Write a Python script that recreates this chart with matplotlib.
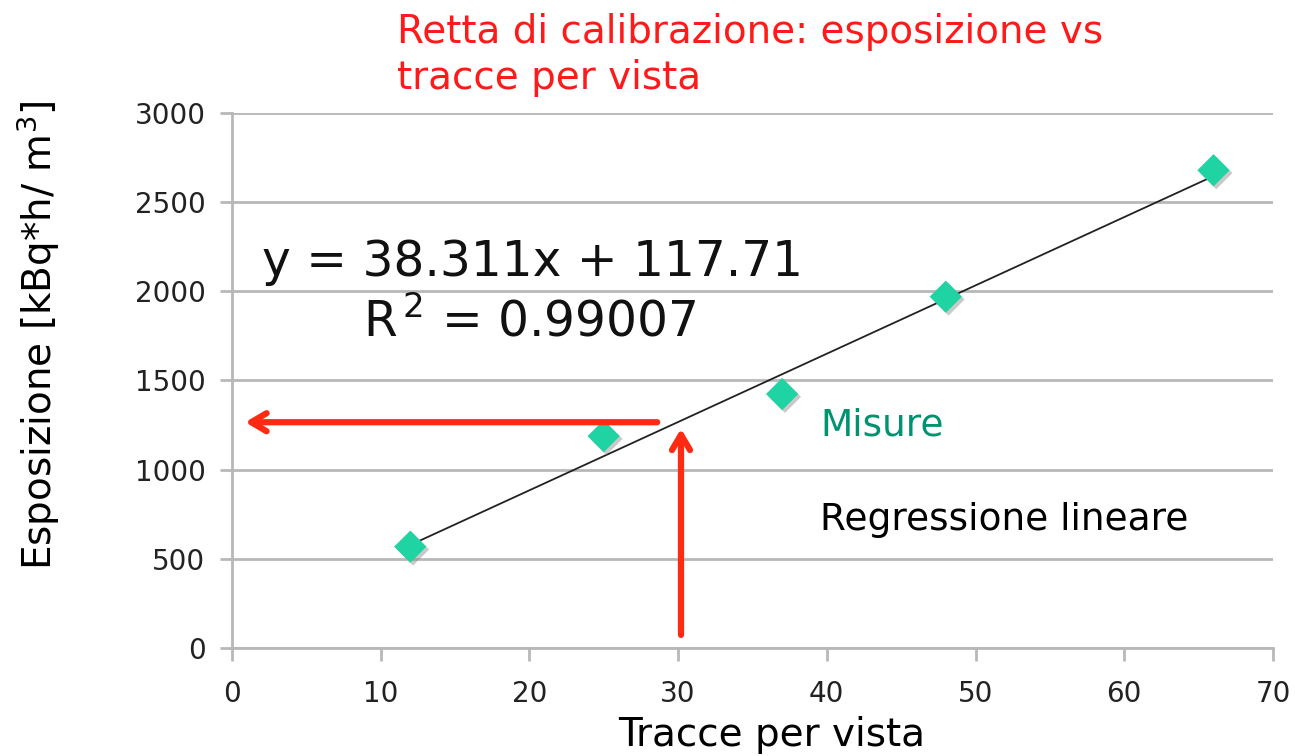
import matplotlib
matplotlib.use("Agg")
import matplotlib.pyplot as plt
import matplotlib.patheffects as pe
import numpy as np

# Data
tracce = [12, 25, 37, 48, 66]
esposizione = [568, 1188, 1424, 1970, 2679]
slope = 38.311
intercept = 117.71
r2 = 0.99007
fit_x = [12, 66]
arrow_y = 1266
arrow_h_x = [28.6, 0.9]
arrow_v_x = 30.2
arrow_v_y = [73, 1230]

xticks = [0, 10, 20, 30, 40, 50, 60, 70]
yticks = [0, 500, 1000, 1500, 2000, 2500, 3000]

W, H = 1295, 756
fig = plt.figure(figsize=(W / 100, H / 100), dpi=100)
ax = fig.add_axes([0.179, 0.1429, 0.983 - 0.179, 0.8505 - 0.1429])


def px(x, y):
    return x / W, 1 - y / H


grid_c = "#b8b8b8"
ax.set_xlim(0, 70)
ax.set_ylim(0, 3000)
ax.set_xticks(xticks)
ax.set_yticks(yticks)
ax.yaxis.grid(True, color=grid_c, lw=2)
ax.set_axisbelow(True)
for s in ["top", "right"]:
    ax.spines[s].set_visible(False)
for s in ["left", "bottom"]:
    ax.spines[s].set_color(grid_c)
    ax.spines[s].set_linewidth(2)
ax.tick_params(axis="both", colors=grid_c, width=2, length=9, labelcolor="#222222", labelsize=20)
ax.tick_params(axis="x", pad=14)
ax.tick_params(axis="y", pad=10)

# regression line
fx = np.array(fit_x, dtype=float)
ax.plot(fx, slope * fx + intercept, color="#222222", lw=1.3, zorder=3)

# markers
ax.scatter(tracce, esposizione, marker="D", s=270, color="#1fd3a2", zorder=4, edgecolors="none",
           path_effects=[pe.SimplePatchShadow(offset=(2, -2), shadow_rgbFace="#888888", alpha=0.45), pe.Normal()])

# red arrows
red = "#ff2a12"
style = "->,head_length=1.1,head_width=0.65"
ax.annotate("", xy=(arrow_h_x[1], arrow_y), xytext=(arrow_h_x[0], arrow_y),
            arrowprops=dict(arrowstyle=style, color=red, lw=4.5, shrinkA=0, shrinkB=0), zorder=5)
ax.annotate("", xy=(arrow_v_x, arrow_v_y[1]), xytext=(arrow_v_x, arrow_v_y[0]),
            arrowprops=dict(arrowstyle=style, color=red, lw=4.5, shrinkA=0, shrinkB=0), zorder=5)

# texts
fig.text(*px(532, 262), f"y = {slope}x + {intercept}", fontsize=35,
         ha="center", va="center", color="#111111")
fig.text(*px(530, 322), f"R$^{{\\,2}}$ = {r2}", fontsize=35,
         ha="center", va="center", color="#111111")
fig.text(*px(820, 425), "Misure", fontsize=27, color="#00936f", ha="left", va="center")
fig.text(*px(820, 520), "Regressione lineare", fontsize=27, color="black", ha="left", va="center")

fig.text(*px(397, 55), "Retta di calibrazione: esposizione vs\ntracce per vista",
         fontsize=28, color="#ff1a1a", ha="left", va="center", linespacing=1.25)
fig.text(*px(38, 335), "Esposizione [kBq*h/ m$^3$]", fontsize=28, rotation=90,
         ha="center", va="center", color="black")
fig.text(*px(772, 735), "Tracce per vista", fontsize=28, ha="center", va="center", color="black")

fig.savefig("out.png", dpi=100)
